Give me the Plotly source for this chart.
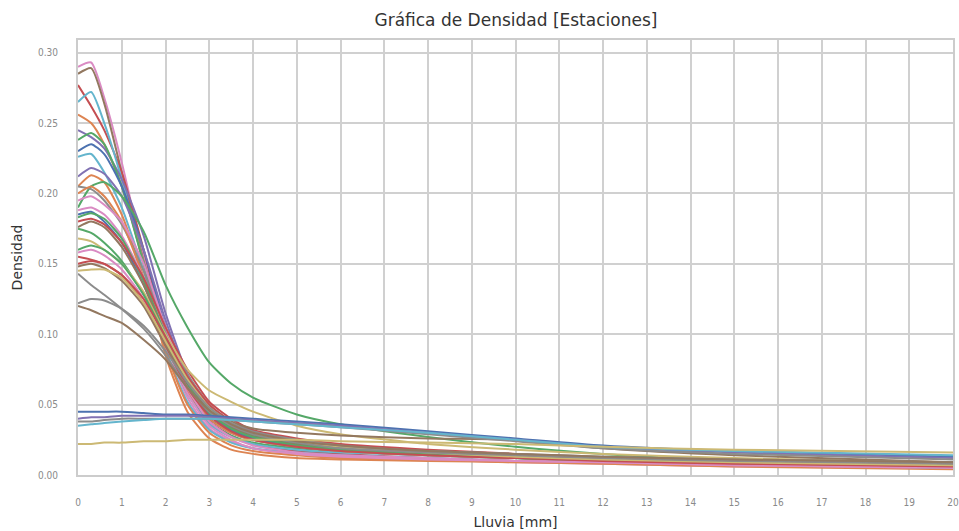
import plotly.graph_objects as go

# Rainfall grid (mm) at which the station densities were read
lluvia = [0, 0.3, 0.6, 1, 1.5, 2, 2.5, 3, 3.5, 4, 5, 6, 8, 10, 12, 15, 20]

# Density per station
est_01 = [0.290, 0.293, 0.268, 0.222, 0.155, 0.095, 0.055, 0.033, 0.024, 0.019, 0.015, 0.013, 0.011, 0.009, 0.008, 0.006, 0.005]
est_02 = [0.285, 0.289, 0.264, 0.215, 0.152, 0.100, 0.062, 0.040, 0.031, 0.026, 0.021, 0.018, 0.015, 0.013, 0.011, 0.009, 0.007]
est_03 = [0.277, 0.262, 0.245, 0.215, 0.160, 0.100, 0.060, 0.038, 0.028, 0.022, 0.017, 0.015, 0.012, 0.010, 0.009, 0.007, 0.005]
est_04 = [0.265, 0.272, 0.250, 0.210, 0.150, 0.090, 0.052, 0.032, 0.023, 0.019, 0.016, 0.014, 0.012, 0.010, 0.009, 0.007, 0.006]
est_05 = [0.256, 0.250, 0.235, 0.205, 0.150, 0.085, 0.045, 0.026, 0.018, 0.015, 0.012, 0.011, 0.010, 0.009, 0.008, 0.006, 0.004]
est_06 = [0.245, 0.240, 0.232, 0.210, 0.170, 0.115, 0.072, 0.045, 0.033, 0.027, 0.021, 0.018, 0.015, 0.013, 0.011, 0.009, 0.006]
est_07 = [0.238, 0.243, 0.235, 0.205, 0.150, 0.095, 0.058, 0.037, 0.028, 0.023, 0.019, 0.017, 0.014, 0.012, 0.010, 0.008, 0.006]
est_08 = [0.230, 0.235, 0.228, 0.205, 0.160, 0.105, 0.062, 0.040, 0.030, 0.025, 0.020, 0.017, 0.014, 0.012, 0.010, 0.008, 0.006]
est_09 = [0.226, 0.228, 0.215, 0.190, 0.145, 0.095, 0.058, 0.036, 0.027, 0.022, 0.018, 0.016, 0.014, 0.012, 0.010, 0.008, 0.006]
est_10 = [0.212, 0.218, 0.214, 0.198, 0.160, 0.110, 0.070, 0.045, 0.034, 0.028, 0.022, 0.019, 0.016, 0.013, 0.011, 0.009, 0.007]
est_11 = [0.205, 0.213, 0.208, 0.185, 0.140, 0.088, 0.050, 0.030, 0.021, 0.017, 0.014, 0.012, 0.011, 0.010, 0.009, 0.007, 0.005]
est_12 = [0.190, 0.205, 0.208, 0.198, 0.173, 0.135, 0.105, 0.080, 0.065, 0.055, 0.043, 0.036, 0.027, 0.020, 0.015, 0.010, 0.007]
est_13 = [0.205, 0.203, 0.195, 0.178, 0.145, 0.105, 0.072, 0.050, 0.038, 0.030, 0.023, 0.020, 0.016, 0.013, 0.011, 0.009, 0.007]
est_14 = [0.200, 0.205, 0.198, 0.180, 0.140, 0.095, 0.060, 0.040, 0.030, 0.025, 0.020, 0.017, 0.014, 0.012, 0.010, 0.008, 0.006]
est_15 = [0.195, 0.198, 0.192, 0.180, 0.150, 0.105, 0.068, 0.045, 0.033, 0.027, 0.021, 0.018, 0.015, 0.013, 0.011, 0.009, 0.006]
est_16 = [0.188, 0.190, 0.185, 0.170, 0.140, 0.100, 0.062, 0.038, 0.027, 0.021, 0.016, 0.014, 0.012, 0.010, 0.009, 0.007, 0.005]
est_17 = [0.185, 0.187, 0.180, 0.165, 0.135, 0.098, 0.065, 0.043, 0.032, 0.026, 0.021, 0.018, 0.015, 0.013, 0.011, 0.009, 0.007]
est_18 = [0.183, 0.186, 0.182, 0.168, 0.138, 0.100, 0.068, 0.046, 0.034, 0.028, 0.022, 0.019, 0.016, 0.013, 0.011, 0.009, 0.006]
est_19 = [0.180, 0.182, 0.178, 0.165, 0.140, 0.105, 0.075, 0.052, 0.040, 0.032, 0.026, 0.022, 0.018, 0.015, 0.012, 0.010, 0.008]
est_20 = [0.176, 0.180, 0.176, 0.162, 0.135, 0.098, 0.066, 0.045, 0.034, 0.028, 0.022, 0.019, 0.017, 0.015, 0.012, 0.010, 0.008]
est_21 = [0.175, 0.172, 0.165, 0.152, 0.128, 0.095, 0.065, 0.044, 0.033, 0.027, 0.021, 0.018, 0.015, 0.013, 0.011, 0.009, 0.006]
est_22 = [0.168, 0.166, 0.160, 0.150, 0.130, 0.100, 0.075, 0.060, 0.052, 0.045, 0.035, 0.029, 0.022, 0.018, 0.015, 0.012, 0.009]
est_23 = [0.160, 0.163, 0.160, 0.150, 0.128, 0.098, 0.068, 0.047, 0.036, 0.029, 0.023, 0.019, 0.015, 0.012, 0.010, 0.008, 0.005]
est_24 = [0.158, 0.160, 0.156, 0.146, 0.125, 0.092, 0.058, 0.035, 0.025, 0.019, 0.015, 0.013, 0.011, 0.010, 0.009, 0.007, 0.005]
est_25 = [0.155, 0.153, 0.150, 0.142, 0.125, 0.098, 0.070, 0.050, 0.038, 0.031, 0.025, 0.021, 0.017, 0.014, 0.012, 0.009, 0.007]
est_26 = [0.150, 0.152, 0.150, 0.142, 0.122, 0.092, 0.062, 0.042, 0.031, 0.025, 0.020, 0.017, 0.014, 0.012, 0.010, 0.008, 0.006]
est_27 = [0.148, 0.150, 0.147, 0.138, 0.120, 0.092, 0.066, 0.048, 0.038, 0.033, 0.030, 0.028, 0.026, 0.025, 0.019, 0.014, 0.009]
est_28 = [0.145, 0.146, 0.146, 0.140, 0.122, 0.095, 0.068, 0.048, 0.037, 0.030, 0.024, 0.020, 0.016, 0.013, 0.011, 0.009, 0.007]
est_29 = [0.143, 0.135, 0.128, 0.118, 0.104, 0.085, 0.062, 0.045, 0.035, 0.029, 0.023, 0.019, 0.016, 0.014, 0.012, 0.010, 0.008]
est_30 = [0.122, 0.125, 0.124, 0.118, 0.106, 0.088, 0.066, 0.048, 0.037, 0.031, 0.025, 0.021, 0.017, 0.015, 0.013, 0.011, 0.009]
est_31 = [0.120, 0.117, 0.113, 0.108, 0.096, 0.082, 0.062, 0.046, 0.036, 0.030, 0.024, 0.021, 0.017, 0.015, 0.013, 0.011, 0.009]
est_32 = [0.045, 0.045, 0.045, 0.045, 0.044, 0.043, 0.043, 0.042, 0.041, 0.040, 0.038, 0.036, 0.031, 0.026, 0.021, 0.017, 0.013]
est_33 = [0.040, 0.041, 0.041, 0.042, 0.042, 0.042, 0.042, 0.041, 0.040, 0.039, 0.037, 0.035, 0.030, 0.025, 0.020, 0.016, 0.012]
est_34 = [0.038, 0.038, 0.039, 0.040, 0.040, 0.040, 0.040, 0.040, 0.039, 0.038, 0.036, 0.034, 0.029, 0.024, 0.019, 0.015, 0.011]
est_35 = [0.035, 0.036, 0.037, 0.038, 0.039, 0.040, 0.040, 0.040, 0.039, 0.038, 0.036, 0.034, 0.030, 0.025, 0.020, 0.017, 0.014]
est_36 = [0.022, 0.022, 0.023, 0.023, 0.024, 0.024, 0.025, 0.025, 0.025, 0.025, 0.025, 0.024, 0.023, 0.022, 0.020, 0.018, 0.016]

estaciones = [est_01, est_02, est_03, est_04, est_05, est_06, est_07, est_08, est_09,
              est_10, est_11, est_12, est_13, est_14, est_15, est_16, est_17, est_18,
              est_19, est_20, est_21, est_22, est_23, est_24, est_25, est_26, est_27,
              est_28, est_29, est_30, est_31, est_32, est_33, est_34, est_35, est_36]

# seaborn "deep" palette
deep = {"blue": "#4C72B0", "orange": "#DD8452", "green": "#55A868", "red": "#C44E52",
        "purple": "#8172B3", "brown": "#937860", "pink": "#DA8BC3", "gray": "#8C8C8C",
        "yellow": "#CCB974", "cyan": "#64B5CD"}
colores = ["pink", "brown", "red", "cyan", "orange", "purple", "green", "blue", "cyan",
           "purple", "orange", "green", "gray", "orange", "pink", "pink", "blue", "green",
           "red", "brown", "green", "yellow", "green", "pink", "red", "red", "brown",
           "yellow", "gray", "gray", "brown", "blue", "purple", "gray", "cyan", "yellow"]

x_ticks = list(range(0, 21))
y_ticks = [0.00, 0.05, 0.10, 0.15, 0.20, 0.25, 0.30]

fig = go.Figure()
for vals, c in zip(estaciones, colores):
    fig.add_trace(go.Scatter(x=lluvia, y=vals, mode="lines",
                             line=dict(color=deep[c], width=2, shape="spline", smoothing=0.6),
                             showlegend=False, hoverinfo="x+y"))

tick_font = dict(size=10, color="#8a8a8a", family="Liberation Sans Narrow, DejaVu Sans Condensed, sans-serif")

fig.update_layout(
    width=959, height=531,
    margin=dict(l=78, r=6, t=40, b=56),
    paper_bgcolor="white", plot_bgcolor="white",
    font=dict(family="DejaVu Sans, sans-serif", color="#333333"),
    title=dict(text="Gráfica de Densidad [Estaciones]", x=0.538, xanchor="center",
               y=0.962, yanchor="middle", font=dict(size=17, color="#333333")),
    xaxis=dict(range=[0, 20], tickvals=x_ticks, ticktext=[str(t) for t in x_ticks],
               automargin=False, ticklabeloverflow="allow",
               showgrid=True, gridcolor="#d0d0d0", gridwidth=1.5,
               showline=True, mirror=True, linecolor="#cccccc", linewidth=2,
               zeroline=False, ticks="outside", ticklen=17, tickcolor="rgba(0,0,0,0)",
               tickfont=tick_font,
               title=dict(text="Lluvia [mm]", font=dict(size=14, color="#333333"), standoff=10)),
    yaxis=dict(range=[0, 0.309], tickvals=y_ticks, ticktext=["%.2f" % t for t in y_ticks],
               automargin=False,
               showgrid=True, gridcolor="#d0d0d0", gridwidth=1.5,
               showline=True, mirror=True, linecolor="#cccccc", linewidth=2,
               zeroline=False, ticks="outside", ticklen=16, tickcolor="rgba(0,0,0,0)",
               tickfont=tick_font,
               title=dict(text="Densidad", font=dict(size=14, color="#333333"), standoff=12)),
)

fig.write_html("out.html", config={"displayModeBar": False},
               post_script="document.body.style.margin='0px';document.body.style.overflow='hidden';")
